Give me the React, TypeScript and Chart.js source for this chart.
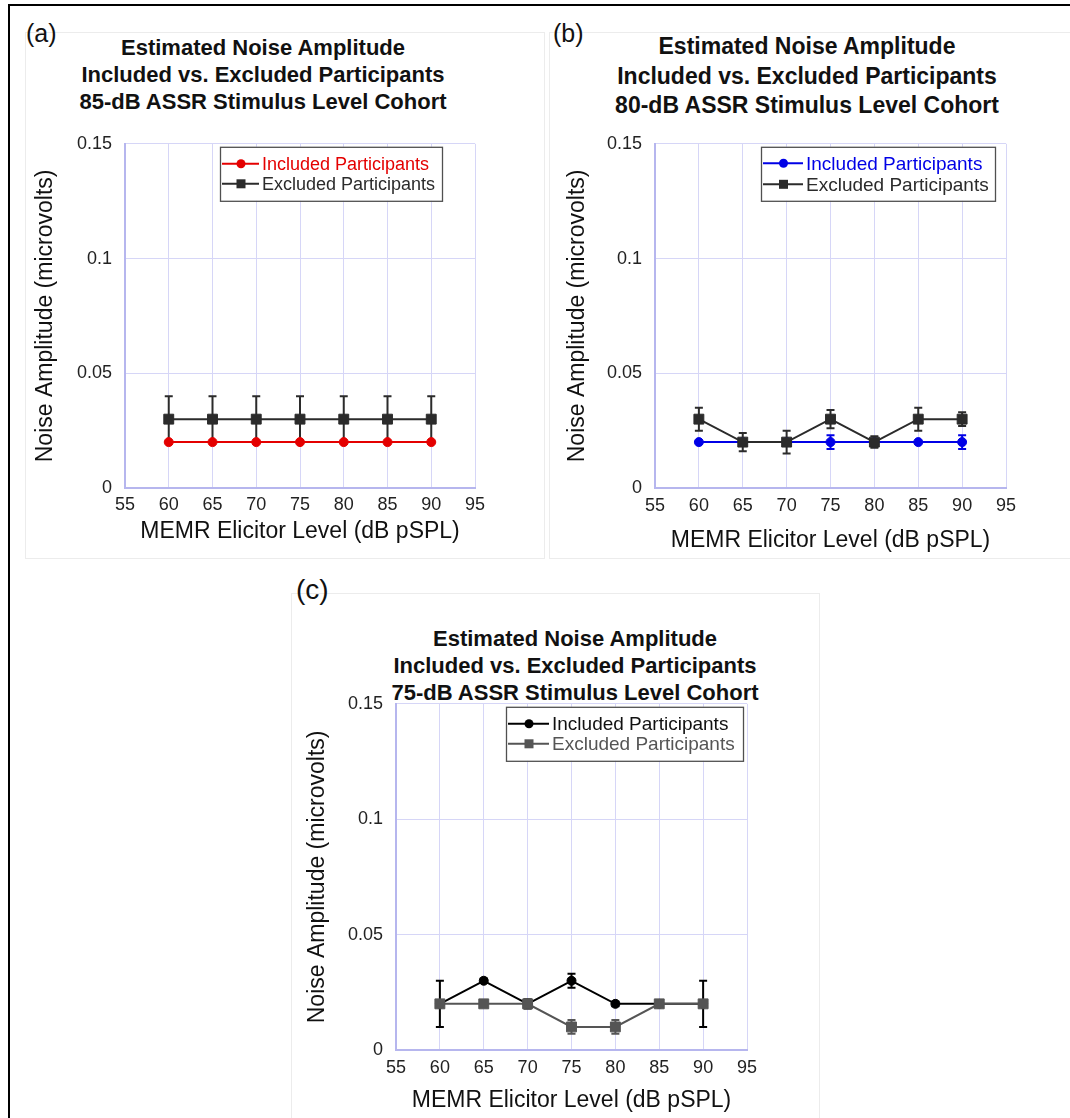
import React, { useEffect, useRef } from "react";
import { Chart, registerables } from "chart.js";

Chart.register(...registerables);

const FONT = "'Liberation Sans', Arial, sans-serif";

// ---------- shared axis data ----------
const elicitorLevels = [60, 65, 70, 75, 80, 85, 90];
const xMin = 55;
const xMax = 95;
const xStep = 5;
const yMin = 0;
const yMax = 0.15;
const yStep = 0.05;
const xAxisLabel = "MEMR Elicitor Level (dB pSPL)";
const yAxisLabel = "Noise Amplitude (microvolts)";
const seriesLabels = ["Included Participants", "Excluded Participants"];

// ---------- panel (a): 85-dB cohort ----------
const aTitle = ["Estimated Noise Amplitude", "Included vs. Excluded Participants", "85-dB ASSR Stimulus Level Cohort"];
const aIncluded = [0.02, 0.02, 0.02, 0.02, 0.02, 0.02, 0.02];
const aIncludedErr = [0, 0, 0, 0, 0, 0, 0];
const aExcluded = [0.03, 0.03, 0.03, 0.03, 0.03, 0.03, 0.03];
const aExcludedErr = [0.01, 0.01, 0.01, 0.01, 0.01, 0.01, 0.01];

// ---------- panel (b): 80-dB cohort ----------
const bTitle = ["Estimated Noise Amplitude", "Included vs. Excluded Participants", "80-dB ASSR Stimulus Level Cohort"];
const bIncluded = [0.02, 0.02, 0.02, 0.02, 0.02, 0.02, 0.02];
const bIncludedErr = [0, 0, 0, 0.003, 0, 0, 0.003];
const bExcluded = [0.03, 0.02, 0.02, 0.03, 0.02, 0.03, 0.03];
const bExcludedErr = [0.005, 0.004, 0.005, 0.004, 0.0025, 0.005, 0.003];

// ---------- panel (c): 75-dB cohort ----------
const cTitle = ["Estimated Noise Amplitude", "Included vs. Excluded Participants", "75-dB ASSR Stimulus Level Cohort"];
const cIncluded = [0.02, 0.03, 0.02, 0.03, 0.02, 0.02, 0.02];
const cIncludedErr = [0.01, 0.001, 0.002, 0.003, 0.001, 0, 0.01];
const cExcluded = [0.02, 0.02, 0.02, 0.01, 0.01, 0.02, 0.02];
const cExcludedErr = [0, 0, 0.002, 0.003, 0.003, 0, 0];

// ---------- plugins ----------
const errorBarPlugin = {
  id: "errorBars",
  beforeDatasetsDraw(chart: any) {
    const { ctx } = chart;
    const yScale = chart.scales.y;
    ctx.save();
    chart.data.datasets.forEach((ds: any, i: number) => {
      const meta = chart.getDatasetMeta(i);
      const errs: number[] = ds.errorBars || [];
      ctx.strokeStyle = ds.errorColor || ds.borderColor;
      ctx.lineWidth = 2;
      meta.data.forEach((pt: any, j: number) => {
        const e = errs[j];
        if (!e) return;
        const v = ds.data[j].y;
        const yTop = yScale.getPixelForValue(v + e);
        const yBot = yScale.getPixelForValue(v - e);
        const x = pt.x;
        ctx.beginPath();
        ctx.moveTo(x, yTop);
        ctx.lineTo(x, yBot);
        ctx.moveTo(x - 4, yTop);
        ctx.lineTo(x + 4, yTop);
        ctx.moveTo(x - 4, yBot);
        ctx.lineTo(x + 4, yBot);
        ctx.stroke();
      });
    });
    ctx.restore();
  },
};

const boxLegendPlugin = {
  id: "boxLegend",
  afterDatasetsDraw(chart: any, _args: any, opts: any) {
    const { ctx, chartArea } = chart;
    ctx.save();
    ctx.font = `${opts.fontSize}px ${FONT}`;
    const items = chart.data.datasets.map((ds: any) => ({
      label: ds.label,
      color: ds.borderColor,
      textColor: ds.legendTextColor || ds.borderColor,
      style: ds.pointStyle,
    }));
    const maxW = Math.max(...items.map((it: any) => ctx.measureText(it.label).width));
    const boxW = Math.round(opts.symbolWidth + maxW + opts.padRight);
    const boxH = items.length * opts.lineHeight + opts.padY * 2;
    const right = chartArea.right - opts.rightInset;
    const left = Math.round(right - boxW);
    const top = chartArea.top + opts.topInset;
    ctx.fillStyle = "#ffffff";
    ctx.fillRect(left, top, boxW, boxH);
    ctx.strokeStyle = "#505050";
    ctx.lineWidth = 1.3;
    ctx.strokeRect(left + 0.5, top + 0.5, boxW, boxH);
    const symEnd = opts.symbolWidth - 3;
    const symMid = (3 + symEnd) / 2;
    items.forEach((it: any, i: number) => {
      const cy = top + opts.padY + opts.lineHeight * (i + 0.5);
      ctx.strokeStyle = it.color;
      ctx.lineWidth = 2;
      ctx.beginPath();
      ctx.moveTo(left + 2, cy);
      ctx.lineTo(left + symEnd, cy);
      ctx.stroke();
      ctx.fillStyle = it.color;
      if (it.style === "circle") {
        ctx.beginPath();
        ctx.arc(left + symMid, cy, 4.5, 0, Math.PI * 2);
        ctx.fill();
      } else {
        ctx.fillRect(left + symMid - 4.5, cy - 4.5, 9, 9);
      }
      ctx.fillStyle = it.textColor;
      ctx.textAlign = "left";
      ctx.textBaseline = "middle";
      ctx.fillText(it.label, left + opts.symbolWidth, cy + 1);
    });
    ctx.restore();
  },
};

type SeriesStyle = { color: string; textColor: string; style: string; radius: number };

type PanelProps = {
  left: number;
  top: number;
  width: number;
  height: number;
  padTop: number;
  padRight: number;
  yAxisWidth: number;
  xAxisHeight: number;
  yTitlePad: number;
  xTitlePad: number;
  xTickPad: number;
  yTickPad: number;
  included: number[];
  includedErr: number[];
  excluded: number[];
  excludedErr: number[];
  incStyle: SeriesStyle;
  excStyle: SeriesStyle;
  legend: any;
};

function toPoints(values: number[]) {
  return elicitorLevels.map((x, i) => ({ x, y: values[i] }));
}

function Panel(p: PanelProps) {
  const ref = useRef<HTMLCanvasElement | null>(null);
  useEffect(() => {
    if (!ref.current) return;
    const mk = (label: string, values: number[], errs: number[], st: SeriesStyle, order: number) => ({
      label,
      data: toPoints(values),
      errorBars: errs,
      borderColor: st.color,
      backgroundColor: st.color,
      legendTextColor: st.textColor,
      pointStyle: st.style,
      pointRadius: st.radius,
      pointHoverRadius: st.radius,
      pointBorderWidth: 1,
      borderWidth: 2,
      showLine: true,
      tension: 0,
      order,
    });
    const chart = new Chart(ref.current, {
      type: "scatter",
      data: {
        datasets: [
          mk(seriesLabels[0], p.included, p.includedErr, p.incStyle, 1),
          mk(seriesLabels[1], p.excluded, p.excludedErr, p.excStyle, 0),
        ] as any,
      },
      options: {
        animation: false,
        responsive: false,
        maintainAspectRatio: false,
        devicePixelRatio: 1,
        events: [],
        layout: { padding: { top: p.padTop, right: p.padRight, left: 0, bottom: 0 } },
        plugins: {
          legend: { display: false },
          title: { display: false },
          tooltip: { enabled: false },
          boxLegend: p.legend,
        } as any,
        scales: {
          x: {
            type: "linear",
            min: xMin,
            max: xMax,
            afterFit: (s: any) => {
              s.height = p.xAxisHeight;
            },
            ticks: {
              stepSize: xStep,
              padding: p.xTickPad,
              color: "#222",
              font: { family: FONT, size: 18 },
              maxRotation: 0,
              autoSkip: false,
            },
            grid: { color: "#d6d6f7", lineWidth: 1, drawTicks: false },
            border: { color: "#b6b6ee", width: 2 },
            title: {
              display: true,
              text: xAxisLabel,
              color: "#111",
              font: { family: FONT, size: 23 },
              padding: { top: 0, bottom: p.xTitlePad },
            },
          },
          y: {
            type: "linear",
            min: yMin,
            max: yMax,
            afterFit: (s: any) => {
              s.width = p.yAxisWidth;
            },
            ticks: {
              stepSize: yStep,
              padding: p.yTickPad,
              color: "#222",
              font: { family: FONT, size: 18 },
              callback: (v: any) => String(parseFloat(Number(v).toFixed(2))),
            },
            grid: { color: "#d6d6f7", lineWidth: 1, drawTicks: false },
            border: { color: "#b6b6ee", width: 2 },
            title: {
              display: true,
              text: yAxisLabel,
              color: "#111",
              font: { family: FONT, size: 23 },
              padding: { top: p.yTitlePad, bottom: 0 },
            },
          },
        },
      } as any,
      plugins: [errorBarPlugin, boxLegendPlugin] as any,
    });
    return () => chart.destroy();
  }, []);
  return (
    <canvas
      ref={ref}
      width={p.width}
      height={p.height}
      style={{ position: "absolute", left: p.left, top: p.top, width: p.width, height: p.height }}
    />
  );
}

function TitleBlock(props: { lines: string[]; cx: number; top: number; size: number; lh: number }) {
  return (
    <div
      style={{
        position: "absolute",
        left: props.cx - 300,
        top: props.top,
        width: 600,
        textAlign: "center",
        fontFamily: FONT,
        fontWeight: "bold",
        fontSize: props.size,
        lineHeight: `${props.lh}px`,
        color: "#111",
        whiteSpace: "nowrap",
      }}
    >
      {props.lines.map((l, i) => (
        <div key={i}>{l}</div>
      ))}
    </div>
  );
}

function PanelLetter(props: { text: string; left: number; cy: number; size: number }) {
  return (
    <div
      style={{
        position: "absolute",
        left: props.left,
        top: props.cy - props.size * 0.6,
        fontFamily: FONT,
        fontSize: props.size,
        lineHeight: `${props.size * 1.2}px`,
        color: "#111",
      }}
    >
      {props.text}
    </div>
  );
}

const frame = (left: number, top: number, w: number, h: number) => ({
  position: "absolute" as const,
  left,
  top,
  width: w,
  height: h,
  border: "1px solid #ececec",
  boxSizing: "border-box" as const,
});

export default function App() {
  return (
    <div
      style={{
        position: "absolute",
        left: 0,
        top: 0,
        width: 1070,
        height: 1118,
        overflow: "hidden",
        background: "#fff",
      }}
    >
      <div style={frame(25, 32, 520, 527)} />
      <div style={frame(549, 32, 600, 527)} />
      <div style={frame(291, 593, 529, 600)} />
      <div
        style={{
          position: "absolute",
          left: 8,
          top: 4,
          width: 1200,
          height: 1200,
          borderTop: "2px solid #000",
          borderLeft: "2px solid #000",
        }}
      />

      <PanelLetter text="(a)" left={26} cy={33} size={25} />
      <PanelLetter text="(b)" left={553} cy={33} size={25} />
      <PanelLetter text="(c)" left={296} cy={590} size={28} />

      <TitleBlock lines={aTitle} cx={263} top={33.5} size={22} lh={27} />
      <TitleBlock lines={bTitle} cx={807} top={32} size={23} lh={29.5} />
      <TitleBlock lines={cTitle} cx={575} top={624.5} size={22} lh={27} />

      <Panel
        left={20}
        top={120}
        width={500}
        height={440}
        padTop={17}
        padRight={45}
        yAxisWidth={105}
        xAxisHeight={72}
        yTitlePad={12}
        xTitlePad={15}
        xTickPad={6}
        yTickPad={13}
        included={aIncluded}
        includedErr={aIncludedErr}
        excluded={aExcluded}
        excludedErr={aExcludedErr}
        incStyle={{ color: "#e40000", textColor: "#e40000", style: "circle", radius: 4.5 }}
        excStyle={{ color: "#2b2b2b", textColor: "#2b2b2b", style: "rect", radius: 7 }}
        legend={{ fontSize: 18, lineHeight: 20, padY: 7, symbolWidth: 42, padRight: 7, rightInset: 33, topInset: 3 }}
      />
      <Panel
        left={550}
        top={120}
        width={500}
        height={440}
        padTop={17}
        padRight={44}
        yAxisWidth={105}
        xAxisHeight={72}
        yTitlePad={14}
        xTitlePad={6}
        xTickPad={7}
        yTickPad={13}
        included={bIncluded}
        includedErr={bIncludedErr}
        excluded={bExcluded}
        excludedErr={bExcludedErr}
        incStyle={{ color: "#0000e6", textColor: "#0000e6", style: "circle", radius: 4.5 }}
        excStyle={{ color: "#2b2b2b", textColor: "#2b2b2b", style: "rect", radius: 7 }}
        legend={{ fontSize: 19, lineHeight: 21, padY: 6, symbolWidth: 45, padRight: 6, rightInset: 11, topInset: 3 }}
      />
      <Panel
        left={290}
        top={680}
        width={500}
        height={438}
        padTop={19}
        padRight={43}
        yAxisWidth={106}
        xAxisHeight={68}
        yTitlePad={14}
        xTitlePad={4}
        xTickPad={7}
        yTickPad={13}
        included={cIncluded}
        includedErr={cIncludedErr}
        excluded={cExcluded}
        excludedErr={cExcludedErr}
        incStyle={{ color: "#000000", textColor: "#111111", style: "circle", radius: 4.5 }}
        excStyle={{ color: "#555555", textColor: "#555555", style: "rect", radius: 7 }}
        legend={{ fontSize: 19, lineHeight: 20, padY: 7, symbolWidth: 46, padRight: 8, rightInset: 4, topInset: 3 }}
      />
    </div>
  );
}
